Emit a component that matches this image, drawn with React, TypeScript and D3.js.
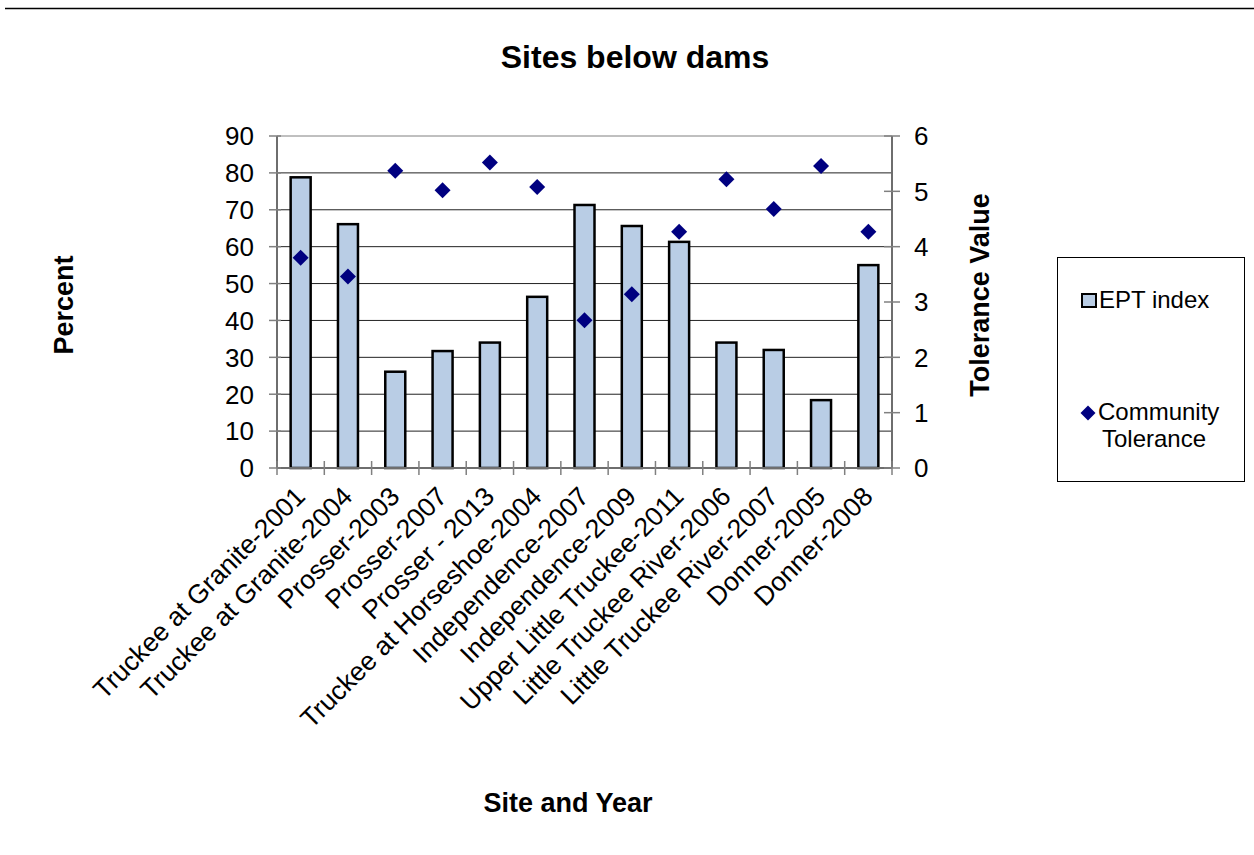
import React from "react";
import * as d3 from "d3";

const categories: string[] = [
  "Truckee at Granite-2001",
  "Truckee at Granite-2004",
  "Prosser-2003",
  "Prosser-2007",
  "Prosser - 2013",
  "Truckee at Horseshoe-2004",
  "Independence-2007",
  "Independence-2009",
  "Upper Little Truckee-2011",
  "Little Truckee River-2006",
  "Little Truckee River-2007",
  "Donner-2005",
  "Donner-2008",
];
const eptIndex: number[] = [78.8, 66.1, 26.1, 31.7, 34.0, 46.4, 71.3, 65.6, 61.3, 34.0, 32.0, 18.4, 55.0];
const communityTolerance: number[] = [3.8, 3.46, 5.37, 5.02, 5.52, 5.08, 2.67, 3.14, 4.27, 5.22, 4.68, 5.46, 4.27];
const leftTicks: number[] = [0, 10, 20, 30, 40, 50, 60, 70, 80, 90];
const rightTicks: number[] = [0, 1, 2, 3, 4, 5, 6];

const W = 1254;
const H = 855;
const plot = { left: 277, right: 892, top: 136, bottom: 468 };
const FONT = "'Liberation Sans', Arial, sans-serif";
const BAR_FILL = "#b9cde5";
const NAVY = "#000080";

export default function App() {
  const x = d3
    .scaleBand<string>()
    .domain(categories)
    .range([plot.left, plot.right])
    .paddingInner(0)
    .paddingOuter(0);
  const yL = d3.scaleLinear().domain([0, 90]).range([plot.bottom, plot.top]);
  const yR = d3.scaleLinear().domain([0, 6]).range([plot.bottom, plot.top]);
  const bw = x.bandwidth();
  const barW = 20;
  const diamond = (cx: number, cy: number, r = 8) =>
    `M${cx},${cy - r}L${cx + r},${cy}L${cx},${cy + r}L${cx - r},${cy}Z`;

  return (
    <svg
      width={W}
      height={H}
      style={{ position: "absolute", left: 0, top: 0, background: "#fff" }}
      fontFamily={FONT}
    >
      <rect x={0} y={0} width={W} height={H} fill="#fff" />
      <line x1={5} x2={W} y1={8.5} y2={8.5} stroke="#000" strokeWidth={1.5} />

      <text x={635} y={68} textAnchor="middle" fontSize={32} fontWeight="bold">
        Sites below dams
      </text>

      {/* gridlines */}
      {leftTicks.map((t) => (
        <line
          key={"g" + t}
          x1={plot.left}
          x2={plot.right}
          y1={yL(t)}
          y2={yL(t)}
          stroke={t === 90 ? "#808080" : "#222"}
          strokeWidth={1}
        />
      ))}

      {/* bars */}
      {eptIndex.map((v, i) => {
        const cx = (x(categories[i]) as number) + bw / 2;
        return (
          <rect
            key={"b" + i}
            x={cx - barW / 2}
            y={yL(v)}
            width={barW}
            height={plot.bottom - yL(v)}
            fill={BAR_FILL}
            stroke="#000"
            strokeWidth={2.5}
          />
        );
      })}

      {/* axes */}
      <line x1={plot.left} x2={plot.left} y1={plot.top} y2={plot.bottom} stroke="#6e6e6e" strokeWidth={2} />
      <line x1={plot.right} x2={plot.right} y1={plot.top} y2={plot.bottom} stroke="#6e6e6e" strokeWidth={2} />
      <line x1={plot.left} x2={plot.right} y1={plot.bottom} y2={plot.bottom} stroke="#6e6e6e" strokeWidth={2} />

      {leftTicks.map((t) => (
        <g key={"lt" + t}>
          <line x1={plot.left - 8} x2={plot.left + 4} y1={yL(t)} y2={yL(t)} stroke="#808080" strokeWidth={1.5} />
          <text x={254} y={yL(t)} dy="0.36em" textAnchor="end" fontSize={26}>
            {t}
          </text>
        </g>
      ))}
      {rightTicks.map((t) => (
        <g key={"rt" + t}>
          <line x1={plot.right - 8} x2={plot.right + 8} y1={yR(t)} y2={yR(t)} stroke="#808080" strokeWidth={1.5} />
          <text x={914} y={yR(t)} dy="0.36em" textAnchor="start" fontSize={26}>
            {t}
          </text>
        </g>
      ))}
      {d3.range(categories.length + 1).map((i) => {
        const xx = plot.left + i * bw;
        return (
          <line key={"xt" + i} x1={xx} x2={xx} y1={plot.bottom - 7} y2={plot.bottom + 7} stroke="#808080" strokeWidth={1.5} />
        );
      })}

      {/* diamonds */}
      {communityTolerance.map((v, i) => {
        const cx = (x(categories[i]) as number) + bw / 2;
        return <path key={"d" + i} d={diamond(cx, yR(v))} fill={NAVY} />;
      })}

      {/* category labels */}
      {categories.map((c) => {
        const cx = (x(c) as number) + bw / 2 + 6;
        const cy = plot.bottom + 30;
        return (
          <text
            key={"c" + c}
            x={cx}
            y={cy}
            textAnchor="end"
            fontSize={26.5}
            transform={`rotate(-45, ${cx}, ${cy})`}
          >
            {c}
          </text>
        );
      })}

      {/* axis titles */}
      <text
        x={73}
        y={305}
        textAnchor="middle"
        fontSize={27}
        fontWeight="bold"
        transform="rotate(-90, 73, 305)"
      >
        Percent
      </text>
      <text
        x={989}
        y={295}
        textAnchor="middle"
        fontSize={27}
        fontWeight="bold"
        transform="rotate(-90, 989, 295)"
      >
        Tolerance Value
      </text>
      <text x={568} y={812} textAnchor="middle" fontSize={27} fontWeight="bold">
        Site and Year
      </text>

      {/* legend */}
      <rect x={1057.5} y={257.5} width={187} height={224} fill="#fff" stroke="#000" strokeWidth={1} />
      <rect x={1082} y={294} width={14} height={13} fill={BAR_FILL} stroke="#000" strokeWidth={2} />
      <text x={1099} y={308} fontSize={24}>
        EPT index
      </text>
      <path d={diamond(1088, 413, 7.5)} fill={NAVY} />
      <text x={1098} y={420} fontSize={24}>
        Community
      </text>
      <text x={1102} y={447} fontSize={24}>
        Tolerance
      </text>
    </svg>
  );
}
